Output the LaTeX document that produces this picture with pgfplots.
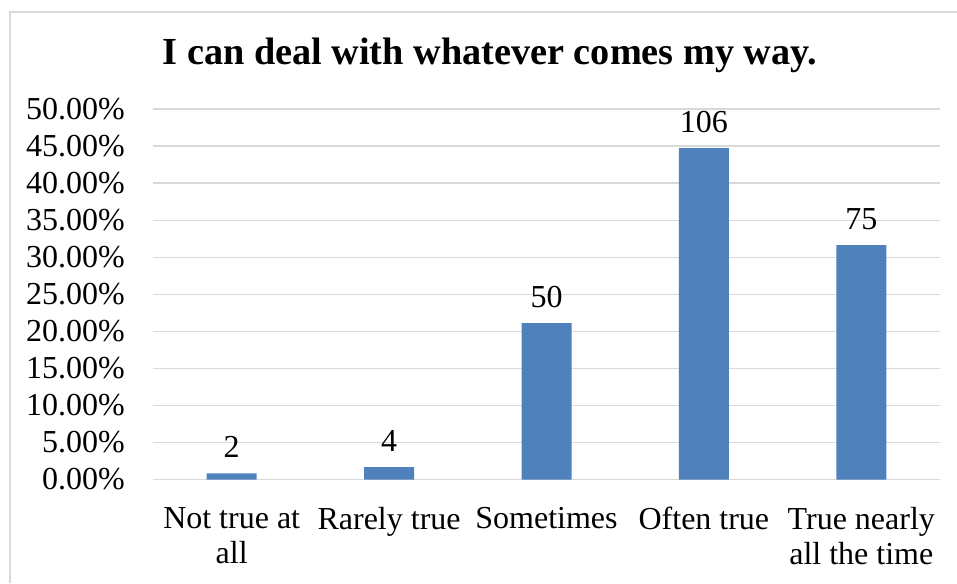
\documentclass[border=0pt]{standalone}
\usepackage{pgfplots}
\pgfplotsset{compat=1.18}
\usepackage{fontspec}
\setmainfont{Liberation Serif}

\definecolor{barblue}{HTML}{4F81BD}
\definecolor{gridgray}{HTML}{D9D9D9}

% positions below: reference pixels times 0.75pt
\begin{document}
\begin{tikzpicture}
	\useasboundingbox (0pt,0pt) rectangle (717.75pt,437.25pt);
	% chart frame (right and bottom edges lie outside the picture)
	\draw[gridgray, line width=1.1pt] (7.5pt,0pt) -- (7.5pt,428.25pt) -- (717.75pt,428.25pt);

	\node[anchor=base, font=\bfseries\fontsize{28.7}{34}\selectfont]
		at (367.5pt,388.5pt) {I can deal with whatever comes my way.};

	\begin{axis}[
		at				= {(114.75pt,77.6pt)},
		anchor			= south west,
		scale only axis,
		width			= 590.25pt,
		height			= 277.9pt,
		ybar,
		bar width		= 37.5pt,
		xmin			= -0.5,
		xmax			= 4.5,
		ymin			= 0,
		ymax			= 50,
		xtick			= {0,1,2,3,4},
		xticklabels		= {Not true at\\all, Rarely true, Sometimes, Often true, True nearly\\all the time},
		ytick			= {0,5,...,50},
		yticklabels		= {0.00\%,5.00\%,10.00\%,15.00\%,20.00\%,25.00\%,30.00\%,35.00\%,40.00\%,45.00\%,50.00\%},
		axis line style	= {draw=none},
		major tick length = 0pt,
		ymajorgrids,
		grid style		= {gridgray, line width=1pt},
		tick label style = {font=\fontsize{24}{26.25}\selectfont},
		x tick label style = {align=center, anchor=north, inner sep=0pt, yshift=-20.5pt},
		y tick label style = {anchor=east, inner sep=0pt, xshift=-21pt},
		point meta		= explicit symbolic,
		nodes near coords,
		every node near coord/.append style = {font=\fontsize{24}{26.25}\selectfont, anchor=base, inner sep=0pt, yshift=12pt},
	]
		% percentages of 237 answers, counts as labels
		\addplot[fill=barblue, draw=none] coordinates {
			(0,0.844) [2]
			(1,1.688) [4]
			(2,21.097) [50]
			(3,44.726) [106]
			(4,31.646) [75]
		};
	\end{axis}
\end{tikzpicture}
\end{document}
